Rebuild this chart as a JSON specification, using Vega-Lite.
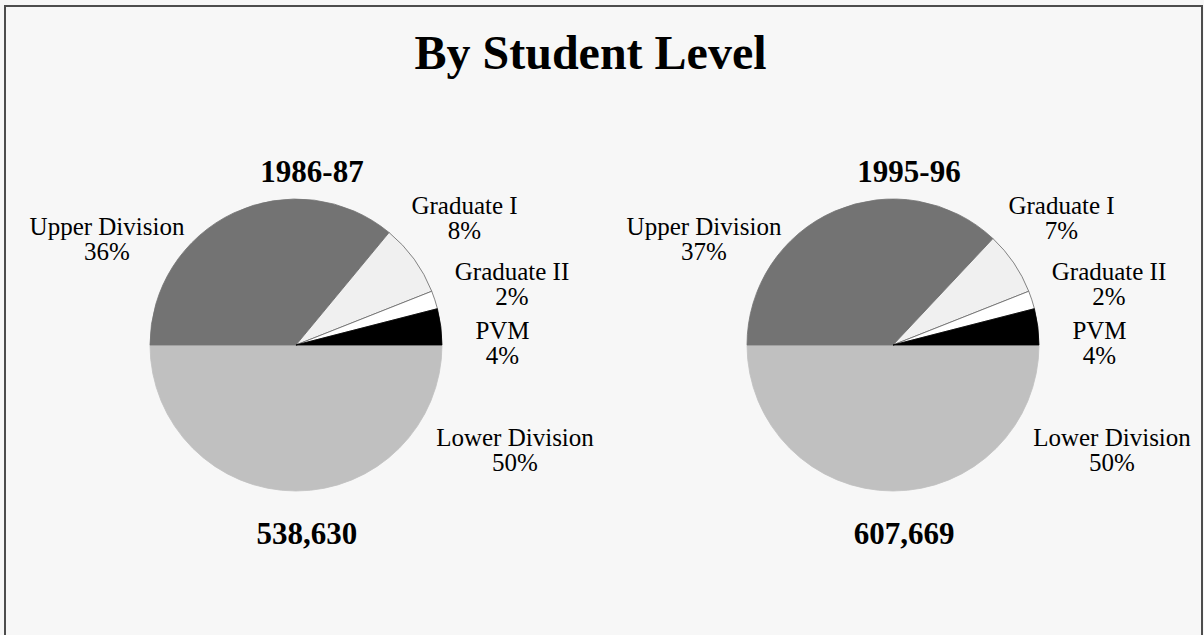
{
  "$schema": "https://vega.github.io/schema/vega-lite/v6.json",
  "autosize": {"type": "fit", "contains": "padding"},
  "width": 1204,
  "height": 635,
  "padding": {"left": 5, "top": 6, "right": 2, "bottom": -3},
  "background": "#f7f7f7",
  "config": {
    "view": {"stroke": "#4d4d4d", "strokeWidth": 2},
    "text": {"font": "Liberation Serif", "color": "#000000"}
  },
  "datasets": {
    "slices": [
      {"year": "1986-87", "level": "Lower Division", "pct": 50},
      {"year": "1986-87", "level": "Upper Division", "pct": 36},
      {"year": "1986-87", "level": "Graduate I", "pct": 8},
      {"year": "1986-87", "level": "Graduate II", "pct": 2},
      {"year": "1986-87", "level": "PVM", "pct": 4},
      {"year": "1995-96", "level": "Lower Division", "pct": 50},
      {"year": "1995-96", "level": "Upper Division", "pct": 37},
      {"year": "1995-96", "level": "Graduate I", "pct": 7},
      {"year": "1995-96", "level": "Graduate II", "pct": 2},
      {"year": "1995-96", "level": "PVM", "pct": 4}
    ],
    "totals": [
      {"year": "1986-87", "total": 538630},
      {"year": "1995-96", "total": 607669}
    ],
    "heading": [{"text": "By Student Level"}]
  },
  "layer": [
    {
      "data": {"name": "heading"},
      "mark": {"type": "text", "fontSize": 48, "fontWeight": "bold", "baseline": "alphabetic", "align": "center", "dx": -13, "dy": -253},
      "encoding": {"text": {"field": "text", "type": "nominal"}}
    },
    {
      "data": {"name": "slices"},
      "transform": [{"stack": "pct", "groupby": ["year"], "as": ["t0", "t1"]}],
      "mark": {"type": "arc", "radius": 146, "strokeWidth": 0.8},
      "encoding": {
        "x": {"field": "year", "type": "nominal", "scale": {"type": "point", "padding": 0.50251, "align": 0.485}, "axis": null},
        "y": {"datum": "pie", "type": "nominal", "scale": {"type": "point", "align": 0.5364}, "axis": null},
        "theta": {"field": "t0", "type": "quantitative", "scale": {"domain": [0, 100], "range": [1.5708, 7.85398]}},
        "theta2": {"field": "t1"},
        "color": {"field": "level", "type": "nominal", "scale": {"domain": ["Lower Division", "Upper Division", "Graduate I", "Graduate II", "PVM"], "range": ["#c0c0c0", "#737373", "#f0f0f0", "#ffffff", "#000000"]}, "legend": null},
        "stroke": {"field": "level", "type": "nominal", "scale": {"domain": ["Lower Division", "Upper Division", "Graduate I", "Graduate II", "PVM"], "range": ["#c0c0c0", "#737373", "#666666", "#666666", "#000000"]}, "legend": null}
      }
    },
    {
      "data": {"name": "totals"},
      "mark": {"type": "text", "fontSize": 31, "fontWeight": "bold", "baseline": "alphabetic", "align": "center", "dx": 16, "dy": -163},
      "encoding": {
        "x": {"field": "year", "type": "nominal", "axis": null},
        "y": {"datum": "pie", "type": "nominal", "axis": null},
        "text": {"field": "year", "type": "nominal"}
      }
    },
    {
      "data": {"name": "totals"},
      "mark": {"type": "text", "fontSize": 31, "fontWeight": "bold", "baseline": "alphabetic", "align": "center", "dx": 11, "dy": 199},
      "encoding": {
        "x": {"field": "year", "type": "nominal", "axis": null},
        "y": {"datum": "pie", "type": "nominal", "axis": null},
        "text": {"field": "total", "type": "quantitative", "format": ","}
      }
    },
    {
      "data": {"name": "slices"},
      "transform": [{"filter": "datum.level === 'Upper Division'"}, {"calculate": "[datum.level, datum.pct + '%']", "as": "label"}],
      "mark": {"type": "text", "fontSize": 25, "lineHeight": 25, "baseline": "middle", "align": "center", "dx": -189, "dy": -118.5},
      "encoding": {
        "x": {"field": "year", "type": "nominal", "axis": null},
        "y": {"datum": "pie", "type": "nominal", "axis": null},
        "text": {"field": "label", "type": "nominal"}
      }
    },
    {
      "data": {"name": "slices"},
      "transform": [{"filter": "datum.level === 'Graduate I'"}, {"calculate": "[datum.level, datum.pct + '%']", "as": "label"}],
      "mark": {"type": "text", "fontSize": 25, "lineHeight": 25, "baseline": "middle", "align": "center", "dx": 168.5, "dy": -139.5},
      "encoding": {
        "x": {"field": "year", "type": "nominal", "axis": null},
        "y": {"datum": "pie", "type": "nominal", "axis": null},
        "text": {"field": "label", "type": "nominal"}
      }
    },
    {
      "data": {"name": "slices"},
      "transform": [{"filter": "datum.level === 'Graduate II'"}, {"calculate": "[datum.level, datum.pct + '%']", "as": "label"}],
      "mark": {"type": "text", "fontSize": 25, "lineHeight": 25, "baseline": "middle", "align": "center", "dx": 216, "dy": -73.5},
      "encoding": {
        "x": {"field": "year", "type": "nominal", "axis": null},
        "y": {"datum": "pie", "type": "nominal", "axis": null},
        "text": {"field": "label", "type": "nominal"}
      }
    },
    {
      "data": {"name": "slices"},
      "transform": [{"filter": "datum.level === 'PVM'"}, {"calculate": "[datum.level, datum.pct + '%']", "as": "label"}],
      "mark": {"type": "text", "fontSize": 25, "lineHeight": 25, "baseline": "middle", "align": "center", "dx": 206.5, "dy": -14.5},
      "encoding": {
        "x": {"field": "year", "type": "nominal", "axis": null},
        "y": {"datum": "pie", "type": "nominal", "axis": null},
        "text": {"field": "label", "type": "nominal"}
      }
    },
    {
      "data": {"name": "slices"},
      "transform": [{"filter": "datum.level === 'Lower Division'"}, {"calculate": "[datum.level, datum.pct + '%']", "as": "label"}],
      "mark": {"type": "text", "fontSize": 25, "lineHeight": 25, "baseline": "middle", "align": "center", "dx": 219, "dy": 92.5},
      "encoding": {
        "x": {"field": "year", "type": "nominal", "axis": null},
        "y": {"datum": "pie", "type": "nominal", "axis": null},
        "text": {"field": "label", "type": "nominal"}
      }
    }
  ]
}
